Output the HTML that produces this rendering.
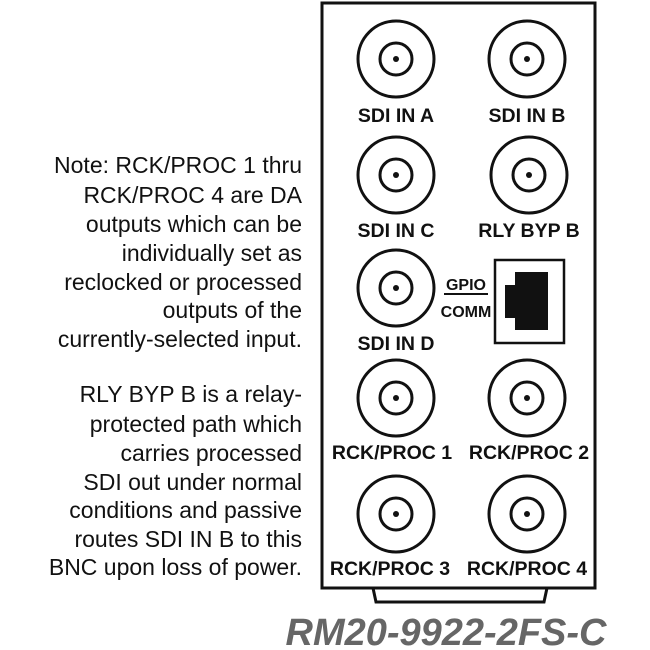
<!DOCTYPE html>
<html><head><style>
body{margin:0;background:#fff;}
svg{display:block}
.l{font:bold 19.5px "Liberation Sans",sans-serif;fill:#111;text-anchor:middle}
.n{font:23px "Liberation Sans",sans-serif;fill:#111;text-anchor:end}
</style></head><body>
<svg width="650" height="650" viewBox="0 0 650 650">
<rect x="322" y="3" width="273" height="585" fill="none" stroke="#111" stroke-width="3"/>
<path d="M373 588 L376 602 L544 602 L547 588" fill="none" stroke="#111" stroke-width="3"/>
<g fill="none" stroke="#111" stroke-width="3">
<circle cx="396" cy="59" r="38"/><circle cx="396" cy="59" r="16"/>
<circle cx="527" cy="59" r="38"/><circle cx="527" cy="59" r="16"/>
<circle cx="396" cy="175" r="38"/><circle cx="396" cy="175" r="16"/>
<circle cx="529" cy="175" r="38"/><circle cx="529" cy="175" r="16"/>
<circle cx="396" cy="288" r="38"/><circle cx="396" cy="288" r="16"/>
<circle cx="396" cy="398" r="38"/><circle cx="396" cy="398" r="16"/>
<circle cx="527" cy="398" r="38"/><circle cx="527" cy="398" r="16"/>
<circle cx="396" cy="514" r="38"/><circle cx="396" cy="514" r="16"/>
<circle cx="527" cy="514" r="38"/><circle cx="527" cy="514" r="16"/>
<rect x="495" y="260" width="69" height="83" stroke-width="2.5"/>
<line x1="444" y1="294" x2="488" y2="294" stroke-width="2"/>
</g>
<g fill="#111">
<circle cx="396" cy="59" r="3"/><circle cx="527" cy="59" r="3"/>
<circle cx="396" cy="175" r="3"/><circle cx="529" cy="175" r="3"/>
<circle cx="396" cy="288" r="3"/><circle cx="396" cy="398" r="3"/>
<circle cx="527" cy="398" r="3"/><circle cx="396" cy="514" r="3"/>
<circle cx="527" cy="514" r="3"/>
<rect x="515" y="272" width="33" height="58"/>
<rect x="505" y="285" width="12" height="33"/>
</g>
<text class="l" x="396" y="122">SDI IN A</text>
<text class="l" x="527" y="122">SDI IN B</text>
<text class="l" x="396" y="237">SDI IN C</text>
<text class="l" x="529" y="237">RLY BYP B</text>
<text class="l" x="396" y="350">SDI IN D</text>
<text class="l" x="466" y="290" style="font-size:16px">GPIO</text>
<text class="l" x="466" y="317" style="font-size:16px">COMM</text>
<text class="l" x="392" y="459">RCK/PROC 1</text>
<text class="l" x="529" y="459">RCK/PROC 2</text>
<text class="l" x="390" y="575">RCK/PROC 3</text>
<text class="l" x="527" y="575">RCK/PROC 4</text>
<text class="n" x="302" y="173">Note: RCK/PROC 1 thru</text>
<text class="n" x="302" y="203">RCK/PROC 4 are DA</text>
<text class="n" x="302" y="232">outputs which can be</text>
<text class="n" x="302" y="261">individually set as</text>
<text class="n" x="302" y="290">reclocked or processed</text>
<text class="n" x="302" y="318">outputs of the</text>
<text class="n" x="302" y="347">currently-selected input.</text>
<text class="n" x="302" y="402">RLY BYP B is a relay-</text>
<text class="n" x="302" y="432">protected path which</text>
<text class="n" x="302" y="461">carries processed</text>
<text class="n" x="302" y="490">SDI out under normal</text>
<text class="n" x="302" y="518">conditions and passive</text>
<text class="n" x="302" y="547">routes SDI IN B to this</text>
<text class="n" x="302" y="575">BNC upon loss of power.</text>
<text x="446" y="645" text-anchor="middle" style="font:italic bold 38px 'Liberation Sans',sans-serif;fill:#666">RM20-9922-2FS-C</text>
</svg>
</body></html>
